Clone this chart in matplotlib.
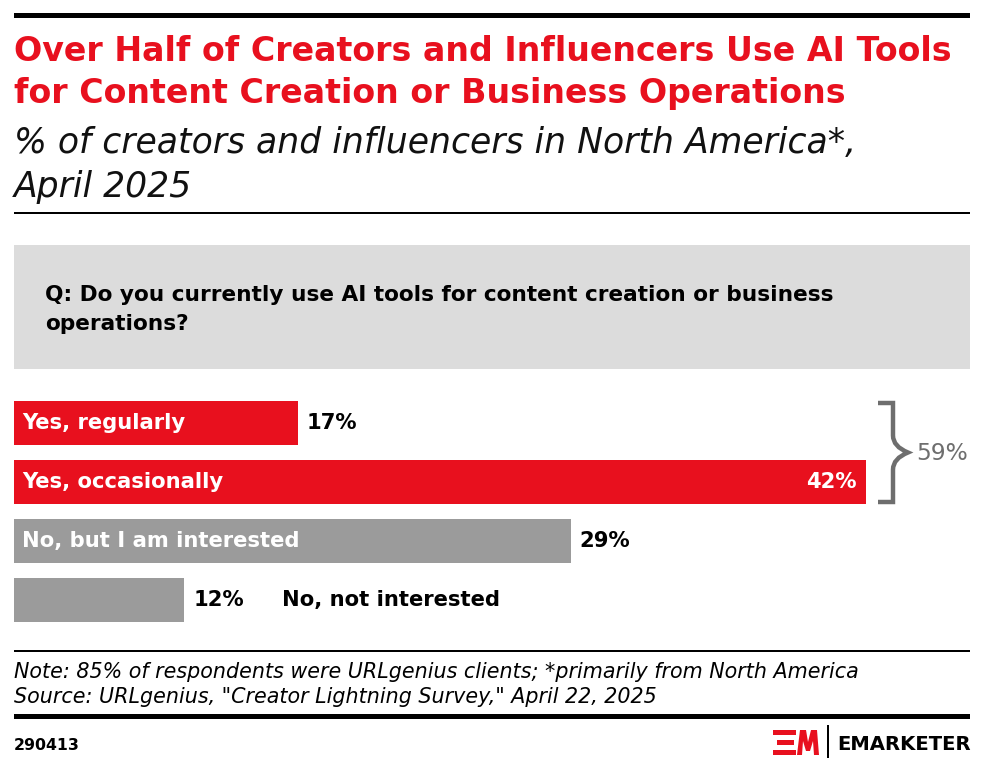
import matplotlib
matplotlib.use("Agg")
import matplotlib.pyplot as plt
from matplotlib.patches import Rectangle, Polygon, PathPatch
from matplotlib.path import Path

# ---------------- data ----------------
categories = ["Yes, regularly", "Yes, occasionally", "No, but I am interested", "No, not interested"]
values = [17, 42, 29, 12]
bar_colors = ["#e8101e", "#e8101e", "#9b9b9b", "#9b9b9b"]
combined_label = "59%"

title_lines = ["Over Half of Creators and Influencers Use AI Tools",
               "for Content Creation or Business Operations"]
subtitle_lines = ["% of creators and influencers in North America*,", "April 2025"]
question_lines = ["Q: Do you currently use AI tools for content creation or business",
                  "operations?"]
note_text = "Note: 85% of respondents were URLgenius clients; *primarily from North America"
source_text = "Source: URLgenius, \"Creator Lightning Survey,\" April 22, 2025"
chart_id = "290413"

RED = "#e8101e"
GRAY_TXT = "#6e6e6e"
BODY = "DejaVu Sans"

W, H = 985, 770
fig = plt.figure(figsize=(W / 100, H / 100), dpi=100)
fig.patch.set_facecolor("white")
renderer = fig.canvas.get_renderer()


def fit(texts, ref, target_px):
    """Scale font size of texts so that ref text spans target_px."""
    w = ref.get_window_extent(renderer).width
    s = ref.get_fontsize() * target_px / w
    for t in texts:
        t.set_fontsize(s)


# decoration axes in pixel coordinates
deco = fig.add_axes([0, 0, 1, 1], zorder=0)
deco.set_xlim(0, W)
deco.set_ylim(H, 0)
deco.axis("off")

# top thick rule
deco.add_patch(Rectangle((14, 13), 956, 5, color="black", lw=0))
# title
tt = [deco.text(14, 61 + i * 42, t, color=RED, fontsize=22, fontweight="bold",
                family="DejaVu Sans", va="baseline", ha="left")
      for i, t in enumerate(title_lines)]
fit(tt, tt[0], 934)
st = [deco.text(14, 153 + i * 44, t, color="#111111", fontsize=24,
                style="italic", family="DejaVu Sans", va="baseline", ha="left")
      for i, t in enumerate(subtitle_lines)]
fit(st, st[0], 842)
deco.add_patch(Rectangle((14, 212), 956, 1.5, color="black", lw=0))

# question box
deco.add_patch(Rectangle((14, 245), 956, 124, color="#dcdcdc", lw=0))
qt = [deco.text(45, 301 + i * 29, t, color="black", fontsize=15, fontweight="bold",
                family=BODY, va="baseline", ha="left")
      for i, t in enumerate(question_lines)]
fit(qt, qt[0], 791)

# bracket
bx0, bx1, btip = 878, 893, 908
by0, by1 = 403, 502
bmid = (by0 + by1) / 2
verts = [(bx0, by0), (bx1, by0), (bx1, bmid - 17),
         (bx1, bmid - 6), (btip, bmid),
         (bx1, bmid + 6), (bx1, bmid + 17),
         (bx1, by1), (bx0, by1)]
codes = [Path.MOVETO, Path.LINETO, Path.LINETO,
         Path.CURVE3, Path.CURVE3,
         Path.CURVE3, Path.CURVE3,
         Path.LINETO, Path.LINETO]
deco.add_patch(PathPatch(Path(verts, codes), fill=False, ec=GRAY_TXT, lw=3.2,
                         joinstyle="miter", capstyle="butt"))
ct = deco.text(916, bmid + 1, combined_label, color=GRAY_TXT, fontsize=17, family=BODY,
               va="center", ha="left")
fit([ct], ct, 52)

# footer
deco.add_patch(Rectangle((14, 650), 956, 1.5, color="black", lw=0))
ft = [deco.text(14, 678, note_text, fontsize=13, style="italic", family=BODY,
                va="baseline", ha="left"),
      deco.text(14, 703, source_text, fontsize=13, style="italic", family=BODY,
                va="baseline", ha="left")]
fit(ft, ft[0], 839)
deco.add_patch(Rectangle((14, 714), 956, 5, color="black", lw=0))
idt = deco.text(14, 750, chart_id, fontsize=11, fontweight="bold", family=BODY,
                va="baseline", ha="left")
fit([idt], idt, 66)

# logo
deco.add_patch(Rectangle((773, 730), 23, 5, color=RED, lw=0))
deco.add_patch(Rectangle((777, 740), 17, 5, color=RED, lw=0))
deco.add_patch(Rectangle((773, 750), 23, 5, color=RED, lw=0))
deco.add_patch(Polygon([(797, 755), (800, 730), (806, 730), (808, 742), (811, 730),
                        (817, 730), (819, 755), (814, 755), (813, 741), (810, 751),
                        (806, 751), (803, 741), (802, 755)], closed=True, color=RED, lw=0))
deco.add_patch(Rectangle((827, 725), 1.5, 33, color="black", lw=0))
lt = deco.text(837, 750, "EMARKETER", fontsize=13, fontweight="bold", family=BODY,
               va="baseline", ha="left")
fit([lt], lt, 133)

# ---------------- bars ----------------
px_per_unit = 22.72
x_left = 4.5
ax_l, ax_r = 14, 970
pitch = 59
y_top = 423 - pitch / 2
y_bot = 600 + pitch / 2
ax = fig.add_axes([ax_l / W, 1 - y_bot / H, (ax_r - ax_l) / W, (y_bot - y_top) / H], zorder=1)
ax.patch.set_alpha(0)
ax.set_xlim(x_left, x_left + (ax_r - ax_l) / px_per_unit)
ax.set_ylim(len(values) - 0.5, -0.5)
ax.axis("off")

ypos = list(range(len(values)))
ax.barh(ypos, values, height=44 / pitch, color=bar_colors, left=0)

off = 9 / px_per_unit
bar_texts = []
ref_text = None
for i, (c, v) in enumerate(zip(categories, values)):
    lab = f"{v}%"
    kw = dict(fontsize=16, fontweight="bold", family=BODY, va="center")
    if i == 3:
        bar_texts.append(ax.text(v + off, i, lab, color="black", ha="left", **kw))
        bar_texts.append(ax.text(v + 98 / px_per_unit, i, c, color="black", ha="left", **kw))
    else:
        t = ax.text(x_left + 8 / px_per_unit, i, c, color="white", ha="left", **kw)
        bar_texts.append(t)
        if i == 2:
            ref_text = t
        if i == 1:
            bar_texts.append(ax.text(v - off, i, lab, color="white", ha="right", **kw))
        else:
            bar_texts.append(ax.text(v + off, i, lab, color="black", ha="left", **kw))
fit(bar_texts, ref_text, 278)

fig.savefig("out.png", dpi=100, facecolor="white")
